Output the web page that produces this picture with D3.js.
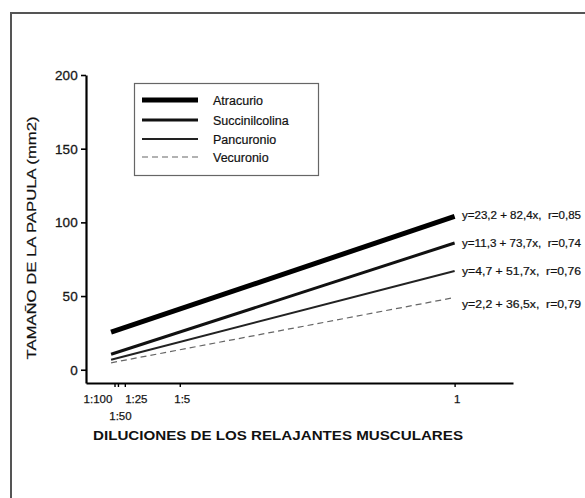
<!DOCTYPE html>
<html><head><meta charset="utf-8">
<script src="https://cdn.jsdelivr.net/npm/d3@7"></script>
<style>html,body{margin:0;padding:0;background:#fff}svg{display:block}text{font-family:"Liberation Sans",Arial,sans-serif;fill:#111}</style>
</head><body>
<script>
// ---- data ----
const seriesNames = ["Atracurio", "Succinilcolina", "Pancuronio", "Vecuronio"];
const lineX = [0, 1];
const atracurio = [25.5, 104];
const succinilcolina = [10.5, 86];
const pancuronio = [6.8, 67];
const vecuronio = [4.7, 49];
const equations = ["y=23,2 + 82,4x,  r=0,85", "y=11,3 + 73,7x,  r=0,74", "y=4,7 + 51,7x,  r=0,76", "y=2,2 + 36,5x,  r=0,79"];
const yTicks = [0, 50, 100, 150, 200];
const xTickValues = [0.01, 0.02, 0.04, 0.2, 1];
const xTickLabels = ["1:100", "1:50", "1:25", "1:5", "1"];
const yTitle = "TAMAÑO DE LA PAPULA (mm2)";
const xTitle = "DILUCIONES DE LOS RELAJANTES MUSCULARES";

const W = 585, H = 498;
const svg = d3.select("body").append("svg").attr("width", W).attr("height", H);

// outer frame
svg.append("rect").attr("x", 11).attr("y", 13).attr("width", W).attr("height", H)
  .attr("fill", "none").attr("stroke", "#555").attr("stroke-width", 2);

const x = d3.scaleLinear().domain([-0.073, 1.17]).range([86, 513]);
const y = d3.scaleLinear().domain([-9, 200]).range([383, 75]);

// axes
const yAxis = d3.axisLeft(y).tickValues(yTicks).tickSize(5).tickPadding(3).tickSizeOuter(0);
const gy = svg.append("g").attr("transform", "translate(86,0)").call(yAxis);
gy.select(".domain").attr("stroke", "#000").attr("stroke-width", 2.2);
gy.selectAll(".tick line").attr("stroke", "#000").attr("stroke-width", 1.6);
gy.selectAll(".tick text").style("font-size", "13.5px").attr("letter-spacing", "0.2px").attr("fill", "#222")
  .attr("stroke", "#222").attr("stroke-width", 0.3);

const xAxis = d3.axisBottom(x).tickValues(xTickValues).tickSize(4).tickSizeOuter(0)
  .tickFormat((d, i) => xTickLabels[i]);
const gx = svg.append("g").attr("transform", "translate(0,383)").call(xAxis);
gx.select(".domain").attr("stroke", "#000").attr("stroke-width", 2.2);
gx.selectAll(".tick line").attr("stroke", "#000").attr("stroke-width", 1.4);
gx.selectAll(".tick text").style("font-size", "11.5px").attr("fill", "#222")
  .attr("stroke", "#222").attr("stroke-width", 0.25)
  .attr("y", (d, i) => i === 1 ? 29 : 12)
  .attr("dx", (d, i) => i === 0 ? -17 : (i === 1 ? 2 : (i === 2 ? 11 : 2)));

// titles
svg.append("text").attr("transform", "translate(36,238) rotate(-90)")
  .attr("text-anchor", "middle").style("font-size", "12.5px")
  .attr("stroke", "#111").attr("stroke-width", 0.2)
  .attr("textLength", 243).attr("lengthAdjust", "spacingAndGlyphs").text(yTitle);
svg.append("text").attr("x", 278).attr("y", 440).attr("text-anchor", "middle")
  .style("font-size", "12.5px").style("font-weight", "bold")
  .attr("textLength", 370).attr("lengthAdjust", "spacingAndGlyphs").text(xTitle);

// lines
const allSeries = [atracurio, succinilcolina, pancuronio, vecuronio];
const widths = [5, 3, 2, 1.2];
const colors = ["#000", "#111", "#222", "#666"];
const dashes = [null, null, null, "6,4"];
const line = d3.line().x((d, i) => x(lineX[i])).y(d => y(d));
allSeries.forEach((s, k) => {
  svg.append("path").datum(s).attr("d", line).attr("fill", "none")
    .attr("stroke", colors[k]).attr("stroke-width", widths[k])
    .attr("stroke-dasharray", dashes[k]);
});

// equations
const eqY = [219, 247, 275, 308];
equations.forEach((t, k) => {
  svg.append("text").attr("x", 462).attr("y", eqY[k]).style("font-size", "10px")
    .style("white-space", "pre")
    .attr("stroke", "#111").attr("stroke-width", 0.2)
    .attr("textLength", 119).attr("lengthAdjust", "spacingAndGlyphs").text(t);
});

// legend
const lg = svg.append("g");
lg.append("rect").attr("x", 134.5).attr("y", 83.5).attr("width", 184).attr("height", 92)
  .attr("fill", "#fff").attr("stroke", "#666").attr("stroke-width", 1.2);
const legY = [100, 120, 139, 157];
seriesNames.forEach((n, k) => {
  lg.append("line").attr("x1", 142).attr("x2", 198).attr("y1", legY[k]).attr("y2", legY[k])
    .attr("stroke", colors[k]).attr("stroke-width", widths[k]).attr("stroke-dasharray", dashes[k]);
  lg.append("text").attr("x", 213).attr("y", legY[k] + 4.5).style("font-size", "12.5px")
    .attr("stroke", "#111").attr("stroke-width", 0.2).text(n);
});
</script>
</body></html>
